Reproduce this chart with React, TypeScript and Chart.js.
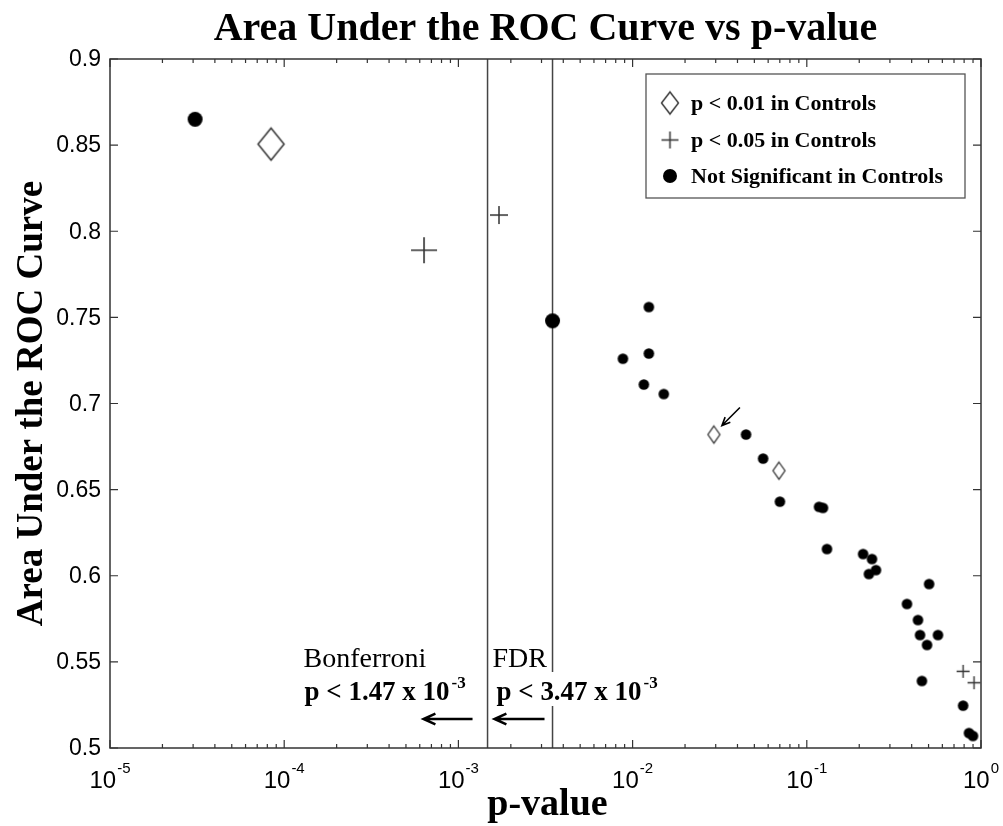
import React, { useEffect, useRef } from 'react';
import { Chart, registerables } from 'chart.js';

Chart.register(...registerables);

// ---------- data ----------
const xExponents = [-5, -4, -3, -2, -1, 0];
const yTickLabels = ['0.5', '0.55', '0.6', '0.65', '0.7', '0.75', '0.8', '0.85', '0.9'];

const titleText = 'Area Under the ROC Curve vs p-value';
const xTitleText = 'p-value';
const yTitleText = 'Area Under the ROC Curve';

const legendLabels = ['p < 0.01 in Controls', 'p < 0.05 in Controls', 'Not Significant in Controls'];

const bonferroniP = 1.47e-3;
const fdrP = 3.47e-3;

// Not significant in controls (large markers)
const circleLargeP = [3.08e-5, 3.47e-3];
const circleLargeAuc = [0.865, 0.748];

// Not significant in controls (small markers)
const circleSmallP = [
  0.0124, 0.0088, 0.0124, 0.0116, 0.0151, 0.0448, 0.0561, 0.0701, 0.1175, 0.1238,
  0.1305, 0.2104, 0.2367, 0.2273, 0.2496, 0.5035, 0.376, 0.4345, 0.4467, 0.566,
  0.49, 0.458, 0.789, 0.853, 0.899,
];
const circleSmallAuc = [
  0.756, 0.726, 0.729, 0.711, 0.7055, 0.682, 0.668, 0.643, 0.64, 0.6394,
  0.6155, 0.6126, 0.6097, 0.601, 0.6033, 0.5952, 0.5836, 0.5743, 0.5656, 0.5656,
  0.5598, 0.5389, 0.5246, 0.5087, 0.507,
];

// p < 0.01 in controls
const diamondLargeP = [8.4e-5];
const diamondLargeAuc = [0.8506];
const diamondSmallP = [0.0293, 0.0692];
const diamondSmallAuc = [0.682, 0.661];

// p < 0.05 in controls
const plusLargeP = [6.35e-4];
const plusLargeAuc = [0.789];
const plusMediumP = [1.71e-3];
const plusMediumAuc = [0.8094];
const plusSmallP = [0.789, 0.912];
const plusSmallAuc = [0.5445, 0.5379];

// ---------- styling helpers ----------
const SERIF = '"Liberation Serif", "Times New Roman", serif';
const SANS = '"Liberation Sans", Arial, sans-serif';
const INK = '#222';

function makeCircle(r: number) {
  const c = document.createElement('canvas');
  const s = Math.ceil(r * 2) + 2;
  c.width = s;
  c.height = s;
  const g = c.getContext('2d')!;
  g.fillStyle = '#000';
  g.beginPath();
  g.arc(s / 2, s / 2, r, 0, Math.PI * 2);
  g.fill();
  return c;
}

function makeDiamond(w: number, h: number, lw: number) {
  const c = document.createElement('canvas');
  const W = Math.ceil(w + lw * 2 + 2);
  const H = Math.ceil(h + lw * 2 + 2);
  c.width = W;
  c.height = H;
  const g = c.getContext('2d')!;
  g.strokeStyle = '#333';
  g.fillStyle = '#fff';
  g.lineWidth = lw;
  g.lineJoin = 'miter';
  g.beginPath();
  g.moveTo(W / 2, H / 2 - h / 2);
  g.lineTo(W / 2 + w / 2, H / 2);
  g.lineTo(W / 2, H / 2 + h / 2);
  g.lineTo(W / 2 - w / 2, H / 2);
  g.closePath();
  g.fill();
  g.stroke();
  return c;
}

function makePlus(s: number, lw: number) {
  const c = document.createElement('canvas');
  const S = Math.ceil(s + 2);
  c.width = S;
  c.height = S;
  const g = c.getContext('2d')!;
  g.strokeStyle = '#333';
  g.lineWidth = lw;
  g.beginPath();
  g.moveTo(S / 2 - s / 2, S / 2);
  g.lineTo(S / 2 + s / 2, S / 2);
  g.moveTo(S / 2, S / 2 - s / 2);
  g.lineTo(S / 2, S / 2 + s / 2);
  g.stroke();
  return c;
}

function textFit(ctx: CanvasRenderingContext2D, text: string, x: number, y: number, font: string, width?: number) {
  ctx.font = font;
  const w = ctx.measureText(text).width;
  const s = width ? width / w : 1;
  ctx.save();
  ctx.translate(x, y);
  ctx.scale(s, 1);
  ctx.textAlign = 'left';
  ctx.textBaseline = 'alphabetic';
  ctx.fillText(text, 0, 0);
  ctx.restore();
  return w * s;
}

function arrow(ctx: CanvasRenderingContext2D, x1: number, y1: number, x2: number, y2: number, head: number, lw: number) {
  const a = Math.atan2(y2 - y1, x2 - x1);
  ctx.save();
  ctx.strokeStyle = '#000';
  ctx.lineWidth = lw;
  ctx.lineCap = 'butt';
  ctx.beginPath();
  ctx.moveTo(x1, y1);
  ctx.lineTo(x2, y2);
  ctx.moveTo(x2 - head * Math.cos(a - 0.42), y2 - head * Math.sin(a - 0.42));
  ctx.lineTo(x2, y2);
  ctx.lineTo(x2 - head * Math.cos(a + 0.42), y2 - head * Math.sin(a + 0.42));
  ctx.stroke();
  ctx.restore();
}

const toPts = (xs: number[], ys: number[]) => xs.map((x, i) => ({ x, y: ys[i] }));

export default function App() {
  const ref = useRef<HTMLCanvasElement | null>(null);

  useEffect(() => {
    if (!ref.current) return;

    const circleL = makeCircle(7.5);
    const circleS = makeCircle(5.3);
    const diamondL = makeDiamond(26, 32, 1.5);
    const diamondS = makeDiamond(12, 17, 1.3);
    const plusL = makePlus(26, 1.6);
    const plusM = makePlus(18, 1.5);
    const plusS = makePlus(13, 1.4);
    const legDiamond = makeDiamond(17, 22, 1.4);
    const legPlus = makePlus(17, 1.5);
    const legCircle = makeCircle(7);

    const overlay = {
      id: 'overlay',
      beforeDatasetsDraw(chart: any) {
        const { ctx, chartArea: a, scales } = chart;
        const xs = scales.x;
        ctx.save();
        ctx.strokeStyle = '#444';
        ctx.lineWidth = 1.5;
        [bonferroniP, fdrP].forEach((p) => {
          const x = xs.getPixelForValue(p);
          ctx.beginPath();
          ctx.moveTo(x, a.top);
          ctx.lineTo(x, a.bottom);
          ctx.stroke();
        });
        ctx.restore();
      },
      afterDraw(chart: any) {
        const { ctx, chartArea: a, scales } = chart;
        const xs = scales.x;
        const ys = scales.y;
        ctx.save();
        ctx.fillStyle = '#000';

        // frame
        ctx.strokeStyle = '#333';
        ctx.lineWidth = 1.5;
        ctx.strokeRect(a.left, a.top, a.right - a.left, a.bottom - a.top);

        // y ticks + labels
        ctx.lineWidth = 1.2;
        ctx.font = `23px ${SANS}`;
        ctx.textAlign = 'right';
        ctx.textBaseline = 'middle';
        yTickLabels.forEach((lab) => {
          const y = ys.getPixelForValue(parseFloat(lab));
          ctx.beginPath();
          ctx.moveTo(a.left, y);
          ctx.lineTo(a.left + 8, y);
          ctx.moveTo(a.right, y);
          ctx.lineTo(a.right - 8, y);
          ctx.stroke();
          ctx.fillText(lab, a.left - 9, y + 1);
        });

        // x ticks (major + minor) + labels
        xExponents.forEach((e) => {
          const base = Math.pow(10, e);
          const x = xs.getPixelForValue(base);
          ctx.beginPath();
          ctx.moveTo(x, a.bottom);
          ctx.lineTo(x, a.bottom - 8);
          ctx.moveTo(x, a.top);
          ctx.lineTo(x, a.top + 8);
          ctx.stroke();
          if (e < 0) {
            for (let k = 2; k <= 9; k++) {
              const xm = xs.getPixelForValue(k * base);
              ctx.beginPath();
              ctx.moveTo(xm, a.bottom);
              ctx.lineTo(xm, a.bottom - 4);
              ctx.moveTo(xm, a.top);
              ctx.lineTo(xm, a.top + 4);
              ctx.stroke();
            }
          }
          ctx.textAlign = 'left';
          ctx.textBaseline = 'alphabetic';
          ctx.font = `24px ${SANS}`;
          const w10 = ctx.measureText('10').width;
          ctx.font = `15px ${SANS}`;
          const sup = String(e);
          const wsup = ctx.measureText(sup).width;
          const left = x - (w10 + wsup + 1) / 2;
          ctx.font = `24px ${SANS}`;
          ctx.fillText('10', left, a.bottom + 40);
          ctx.font = `15px ${SANS}`;
          ctx.fillText(sup, left + w10 + 1, a.bottom + 25);
        });

        // titles
        ctx.textAlign = 'center';
        ctx.textBaseline = 'alphabetic';
        ctx.font = `bold 40px ${SERIF}`;
        ctx.fillText(titleText, (a.left + a.right) / 2, 40);
        ctx.font = `bold 38px ${SERIF}`;
        ctx.fillText(xTitleText, (a.left + a.right) / 2 + 2, a.bottom + 67);
        ctx.save();
        ctx.translate(42, (a.top + a.bottom) / 2);
        ctx.rotate(-Math.PI / 2);
        ctx.font = `bold 37px ${SERIF}`;
        ctx.fillText(yTitleText, 0, 0);
        ctx.restore();

        // legend
        const lx0 = 646;
        const lx1 = 965;
        const ly0 = 74;
        const ly1 = 198;
        ctx.fillStyle = '#fff';
        ctx.fillRect(lx0, ly0, lx1 - lx0, ly1 - ly0);
        ctx.strokeStyle = '#555';
        ctx.lineWidth = 1.3;
        ctx.strokeRect(lx0, ly0, lx1 - lx0, ly1 - ly0);
        const markers = [legDiamond, legPlus, legCircle];
        const baselines = [110, 147, 183];
        ctx.fillStyle = '#000';
        legendLabels.forEach((lab, i) => {
          const m = markers[i];
          const cy = baselines[i] - 7;
          ctx.drawImage(m, 670 - m.width / 2, cy - m.height / 2);
          ctx.textAlign = 'left';
          ctx.font = `bold 22px ${SERIF}`;
          ctx.fillText(lab, 691, baselines[i]);
        });

        // threshold annotations
        const bx = xs.getPixelForValue(bonferroniP);
        const fx = xs.getPixelForValue(fdrP);
        ctx.fillStyle = '#000';
        textFit(ctx, 'Bonferroni', bx - 184, 667, `28px ${SERIF}`);
        const wb = textFit(ctx, 'p < 1.47 x 10', bx - 183, 700, `bold 27px ${SERIF}`, 145);
        textFit(ctx, '-3', bx - 183 + wb + 2, 688, `bold 17px ${SERIF}`);

        ctx.fillStyle = '#fff';
        ctx.fillRect(fx - 58, 672, 160, 34);
        ctx.fillStyle = '#000';
        textFit(ctx, 'FDR', fx - 60, 667, `28px ${SERIF}`);
        const wf = textFit(ctx, 'p < 3.47 x 10', fx - 56, 700, `bold 27px ${SERIF}`, 145);
        textFit(ctx, '-3', fx - 56 + wf + 2, 688, `bold 17px ${SERIF}`);

        arrow(ctx, bx - 15, 719, bx - 64, 719, 13, 2.5);
        arrow(ctx, fx - 8, 719, fx - 58, 719, 13, 2.5);

        // small arrow pointing to diamond
        const dx = xs.getPixelForValue(diamondSmallP[0]);
        const dy = ys.getPixelForValue(diamondSmallAuc[0]);
        arrow(ctx, dx + 26, dy - 27, dx + 8, dy - 9, 9, 1.6);

        ctx.restore();
      },
    };

    const chart = new Chart(ref.current, {
      type: 'scatter',
      data: {
        datasets: [
          { label: 'dL', data: toPts(diamondLargeP, diamondLargeAuc), pointStyle: diamondL, pointRadius: 10 },
          { label: 'dS', data: toPts(diamondSmallP, diamondSmallAuc), pointStyle: diamondS, pointRadius: 6 },
          { label: 'pL', data: toPts(plusLargeP, plusLargeAuc), pointStyle: plusL, pointRadius: 10 },
          { label: 'pM', data: toPts(plusMediumP, plusMediumAuc), pointStyle: plusM, pointRadius: 8 },
          { label: 'pS', data: toPts(plusSmallP, plusSmallAuc), pointStyle: plusS, pointRadius: 6 },
          { label: 'cL', data: toPts(circleLargeP, circleLargeAuc), pointStyle: circleL, pointRadius: 8 },
          { label: 'cS', data: toPts(circleSmallP, circleSmallAuc), pointStyle: circleS, pointRadius: 5 },
        ] as any,
      },
      options: {
        animation: false,
        responsive: false,
        devicePixelRatio: 1,
        layout: { padding: { left: 0, right: 22, top: 59, bottom: 0 } },
        plugins: { legend: { display: false }, tooltip: { enabled: false }, title: { display: false } },
        events: [],
        scales: {
          x: {
            type: 'logarithmic',
            min: 1e-5,
            max: 1,
            grid: { display: false },
            border: { display: false },
            ticks: { display: false },
            afterFit: (s: any) => {
              s.height = 78;
            },
          },
          y: {
            type: 'linear',
            min: 0.5,
            max: 0.9,
            grid: { display: false },
            border: { display: false },
            ticks: { display: false },
            afterFit: (s: any) => {
              s.width = 110;
            },
          },
        },
      } as any,
      plugins: [overlay],
    });

    return () => chart.destroy();
  }, []);

  return (
    <div style={{ position: 'absolute', left: 0, top: 0, width: 1003, height: 826, background: '#fff' }}>
      <canvas ref={ref} width={1003} height={826} style={{ display: 'block' }} />
    </div>
  );
}
